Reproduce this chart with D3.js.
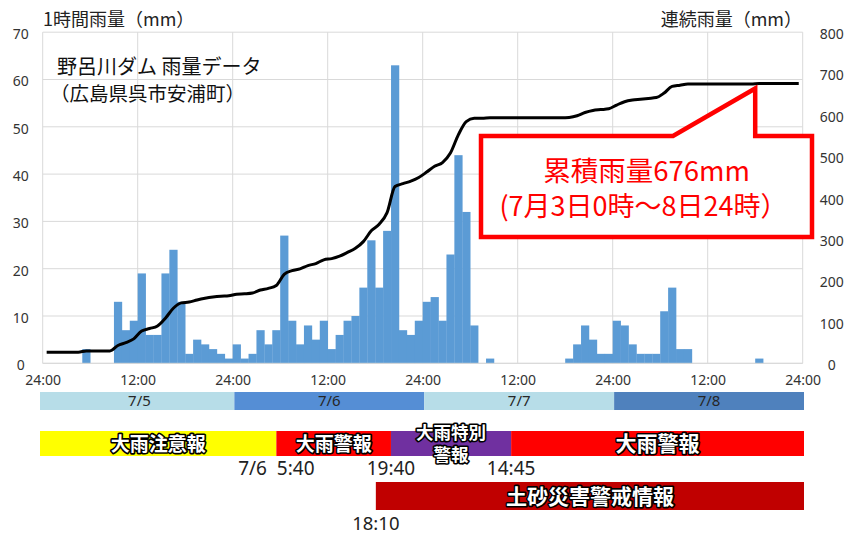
<!DOCTYPE html>
<html>
<head>
<meta charset="utf-8">
<script src="https://cdn.jsdelivr.net/npm/d3@7"></script>
<style>
body { margin: 0; background: #fff; }
svg text { font-family: "Noto Sans CJK JP", "Noto Sans", sans-serif; }
</style>
</head>
<body>
<svg width="846" height="535"></svg>
<script>
// hourly rainfall (mm), one value per hour, 7/5 .. 7/8
var hourly_5 = [0,0,0,0,0,3,0,0,0,13,7,9,19,6,6,19,24,13,2,5,4,3,2,1];
var hourly_6 = [4,1,2,7,4,7,27,9,4,8,5,9,3,6,9,10,16,26,16,28,63,7,6,9];
var hourly_7 = [13,14,9,23,44,32,8,0,1,0,0,0,0,0,0,0,0,0,1,4,8,5,2,2];
var hourly_8 = [9,8,4,2,2,2,11,16,3,3,0,0,0,0,0,0,0,0,1,0,0,0,0,0];

// continuous rainfall (mm)
var total_5 = [27,27,27,27,27,30,30,30,30,43,50,59,78,84,90,109,133,146,148,153,157,160,162,163];
var total_6 = [167,168,170,177,181,188,215,224,228,236,241,250,253,259,268,278,294,320,336,364,427,434,440,449];
var total_7 = [462,476,485,508,552,584,592,592,593,593,593,593,593,593,593,593,593,593,594,598,606,611,613,615];
var total_8 = [624,632,636,638,640,642,653,669,672,675,675,675,675,675,675,675,675,675,676,676,676,676,676,676];

var x_tick_labels = ["24:00","12:00","24:00","12:00","24:00","12:00","24:00","12:00","24:00"];
var days = ["7/5","7/6","7/7","7/8"];

// warnings, in hours from 7/5 0:00 (as placed in the picture)
var warn_names = ["大雨注意報","大雨警報","大雨特別\n警報","大雨警報"];
var warn_breaks = [0, 29.7, 44.1, 59.2, 96];
var warn_times = ["7/6  5:40","19:40","14:45"];
var sediment_name = "土砂災害警戒情報";
var sediment_span = [42.2, 96];
var sediment_time = "18:10";

var total_mm = 676;

// styles
var warn_colors = ["#ffff00","#ff0000","#7030a0","#ff0000"];
var day_colors = ["#b7dde8","#558ed5","#b7dde8","#4f81bd"];

var hourly = hourly_5.concat(hourly_6, hourly_7, hourly_8);
var totals = total_5.concat(total_6, total_7, total_8);

var svg = d3.select("svg");
var left = 42.7, right = 802.7, top_ = 32.2, bottom = 363.3;

var x = d3.scaleLinear().domain([0, 96]).range([left, right]);
var y = d3.scaleLinear().domain([0, 70]).range([bottom, top_]);
var y2 = d3.scaleLinear().domain([0, 800]).range([bottom, top_]);
var xa = d3.scaleLinear().domain([0, 96]).range([40, 804]);   // warning rows
var xd = d3.scaleLinear().domain([0, 96]).range([44.5, 804]); // day band

// grid
svg.append("g").selectAll("line")
  .data(y.ticks(7))
  .enter().append("line")
  .attr("x1", left).attr("x2", right)
  .attr("y1", function(d) { return y(d); })
  .attr("y2", function(d) { return y(d); })
  .attr("stroke", "#d9d9d9").attr("stroke-width", 1);

svg.append("g").selectAll("line")
  .data(d3.range(0, 97, 12))
  .enter().append("line")
  .attr("x1", function(d) { return x(d); })
  .attr("x2", function(d) { return x(d); })
  .attr("y1", top_).attr("y2", bottom)
  .attr("stroke", "#d9d9d9").attr("stroke-width", 1);

// bars
svg.append("g").selectAll("rect")
  .data(hourly)
  .enter().append("rect")
  .attr("x", function(d, i) { return x(i); })
  .attr("width", function(d, i) { return x(i + 1) - x(i) + 0.3; })
  .attr("y", function(d) { return y(d); })
  .attr("height", function(d) { return bottom - y(d); })
  .attr("fill", "#5b9bd5");

// continuous rainfall line
var line = d3.line()
  .x(function(d, i) { return x(i + 0.5); })
  .y(function(d) { return y2(d); })
  .curve(d3.curveMonotoneX);

svg.append("path")
  .datum(totals)
  .attr("d", line)
  .attr("fill", "none")
  .attr("stroke", "#000")
  .attr("stroke-width", 3);

// axes
var ax = svg.append("g")
  .attr("transform", "translate(0," + bottom + ")")
  .call(d3.axisBottom(x).tickValues(d3.range(0, 97, 12))
    .tickFormat(function(d, i) { return x_tick_labels[i]; })
    .tickSize(0).tickPadding(12));

var ayl = svg.append("g")
  .attr("transform", "translate(" + left + ",0)")
  .call(d3.axisLeft(y).ticks(7).tickSize(0));
ayl.selectAll("text").attr("x", -22).attr("text-anchor", "middle").attr("dy", "0.45em");

var ayr = svg.append("g")
  .attr("transform", "translate(" + right + ",0)")
  .call(d3.axisRight(y2).tickValues(d3.range(0, 801, 100)).tickSize(0));
ayr.selectAll("text").attr("x", 29).attr("text-anchor", "middle").attr("dy", "0.45em");

[ax, ayl, ayr].forEach(function(a) {
  a.select(".domain").remove();
  a.selectAll("text").attr("font-size", 14).attr("fill", "#333")
    .style("font-family", "'Noto Sans', sans-serif");
});
svg.append("line")
  .attr("x1", left).attr("x2", right).attr("y1", bottom).attr("y2", bottom)
  .attr("stroke", "#d9d9d9");

// axis titles
svg.append("text").attr("x", 43).attr("y", 26)
  .attr("font-size", 18).attr("fill", "#222").text("1時間雨量（mm）");
svg.append("text").attr("x", 802).attr("y", 26).attr("text-anchor", "end")
  .attr("font-size", 18).attr("fill", "#222").text("連続雨量（mm）");

// chart title
svg.append("text").attr("x", 57).attr("y", 74)
  .attr("font-size", 20).attr("fill", "#111").text("野呂川ダム 雨量データ");
svg.append("text").attr("x", 50).attr("y", 101)
  .attr("font-size", 19.5).attr("fill", "#111").text("（広島県呉市安浦町）");

// callout
var tip_x = x(90), tip_y = y2(total_mm) + 5;
var bx0 = 481, bx1 = 812, by0 = 136, by1 = 237, px0 = 673;
svg.append("path")
  .attr("d", "M" + bx0 + "," + by0 + "L" + px0 + "," + by0 + "L" + tip_x + "," + tip_y +
    "L" + tip_x + "," + by0 + "L" + bx1 + "," + by0 + "L" + bx1 + "," + by1 +
    "L" + bx0 + "," + by1 + "Z")
  .attr("fill", "#fff").attr("stroke", "#ff0000").attr("stroke-width", 4.5);
svg.append("text").attr("x", (bx0 + bx1) / 2).attr("y", 181)
  .attr("text-anchor", "middle").attr("font-size", 27.5).attr("fill", "#ff0000")
  .text("累積雨量" + total_mm + "mm");
svg.append("text").attr("x", (bx0 + bx1) / 2 - 3).attr("y", 216)
  .attr("text-anchor", "middle").attr("font-size", 27).attr("fill", "#ff0000")
  .text("(7月3日0時～8日24時）");

// day band
var dayg = svg.append("g").selectAll("g").data(days).enter().append("g");
dayg.append("rect")
  .attr("x", function(d, i) { return i === 0 ? xa(0) : xd(i * 24); })
  .attr("width", function(d, i) { return xd((i + 1) * 24) - (i === 0 ? xa(0) : xd(i * 24)); })
  .attr("y", 392).attr("height", 18)
  .attr("fill", function(d, i) { return day_colors[i]; });
dayg.append("text")
  .attr("x", function(d, i) { return xd(i * 24 + 12); })
  .attr("y", 406).attr("text-anchor", "middle")
  .attr("font-size", 15).attr("fill", "#262626")
  .style("font-family", "'Noto Sans', sans-serif")
  .text(function(d) { return d; });

// warnings
function outlined(sel) {
  return sel.attr("fill", "#fff").attr("stroke", "#000").attr("stroke-width", 3.2)
    .attr("stroke-linejoin", "round").attr("paint-order", "stroke")
    .attr("font-weight", "bold").attr("text-anchor", "middle");
}

var wg = svg.append("g").selectAll("g").data(warn_names).enter().append("g");
wg.append("rect")
  .attr("x", function(d, i) { return xa(warn_breaks[i]); })
  .attr("width", function(d, i) { return xa(warn_breaks[i + 1]) - xa(warn_breaks[i]); })
  .attr("y", 431).attr("height", 25)
  .attr("fill", function(d, i) { return warn_colors[i]; });
wg.each(function(d, i) {
  var cx = (xa(warn_breaks[i]) + xa(warn_breaks[i + 1])) / 2;
  var parts = d.split("\n");
  var g = d3.select(this);
  if (parts.length === 1) {
    outlined(g.append("text")).attr("x", cx).attr("y", 451)
      .attr("font-size", i === 3 ? 21 : 19).text(d);
  } else {
    outlined(g.append("text")).attr("x", cx).attr("y", 439).attr("font-size", 17.5).text(parts[0]);
    outlined(g.append("text")).attr("x", cx).attr("y", 461).attr("font-size", 17.5).text(parts[1]);
  }
});

svg.append("g").selectAll("text")
  .data(warn_times)
  .enter().append("text")
  .attr("x", function(d, i) { return xa(warn_breaks[i + 1]); })
  .attr("y", 475).attr("text-anchor", "middle")
  .attr("font-size", 19).attr("fill", "#222")
  .style("font-family", "'Noto Sans', sans-serif")
  .style("white-space", "pre").attr("xml:space", "preserve")
  .text(function(d) { return d; });

// sediment disaster alert
svg.append("rect")
  .attr("x", xa(sediment_span[0]))
  .attr("width", xa(sediment_span[1]) - xa(sediment_span[0]))
  .attr("y", 482).attr("height", 28)
  .attr("fill", "#c00000");
outlined(svg.append("text"))
  .attr("x", (xa(sediment_span[0]) + xa(sediment_span[1])) / 2)
  .attr("y", 504).attr("font-size", 21).text(sediment_name);
svg.append("text")
  .attr("x", xa(sediment_span[0])).attr("y", 530).attr("text-anchor", "middle")
  .attr("font-size", 18.5).attr("fill", "#222")
  .style("font-family", "'Noto Sans', sans-serif")
  .text(sediment_time);
</script>
</body>
</html>
